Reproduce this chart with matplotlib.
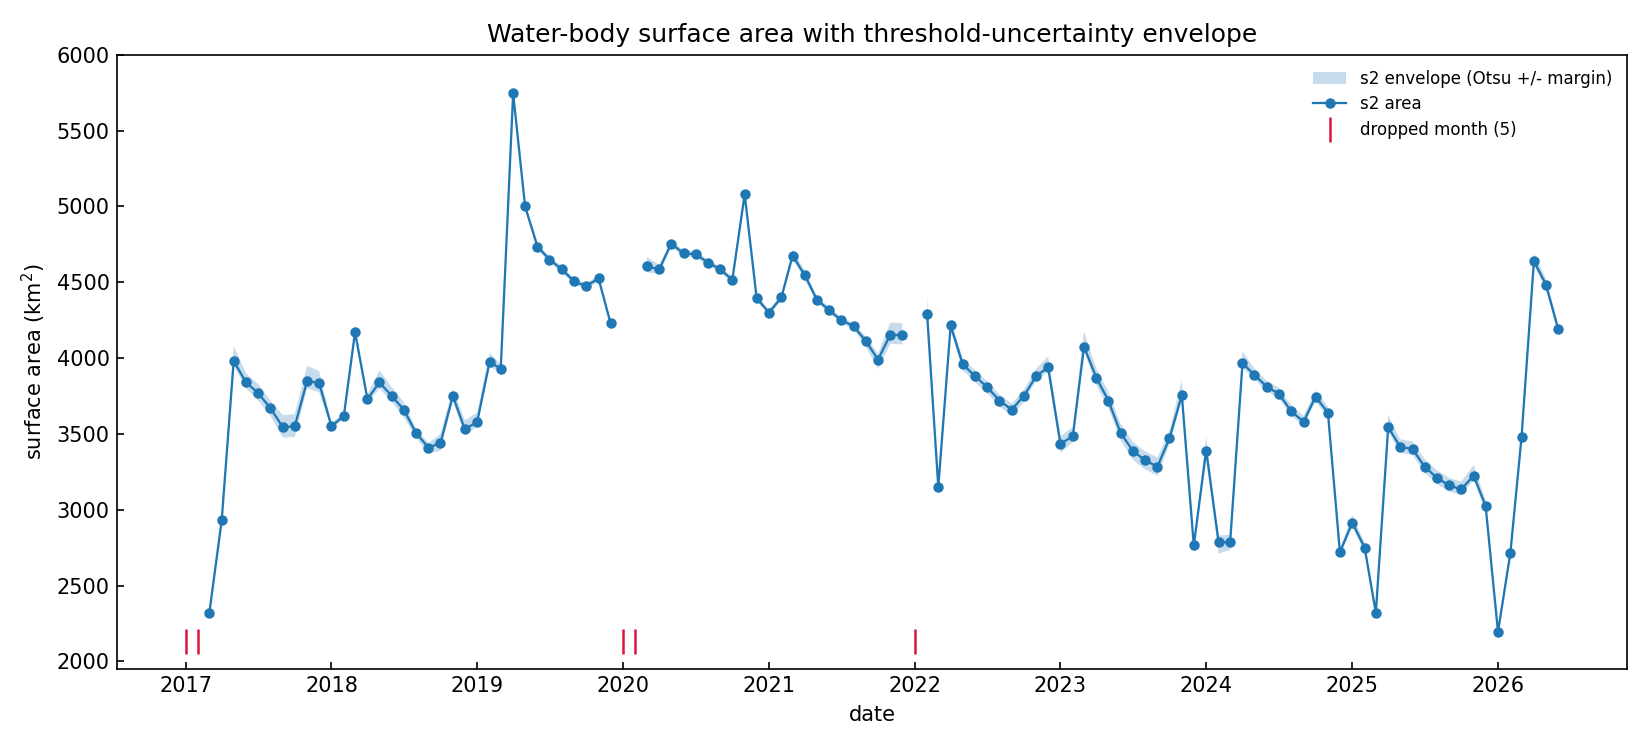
import matplotlib
matplotlib.use("Agg")
import matplotlib.pyplot as plt
import matplotlib.dates as mdates
import numpy as np
import pandas as pd

# monthly area, km^2 (None = dropped month)
area = [
    None, None, 2320, 2930, 3980, 3840, 3770, 3670, 3545, 3550, 3850, 3835,   # 2017
    3550, 3620, 4170, 3730, 3840, 3750, 3660, 3505, 3410, 3440, 3750, 3530,   # 2018
    3580, 3975, 3930, 5745, 5000, 4735, 4650, 4585, 4505, 4475, 4525, 4230,   # 2019
    None, None, 4605, 4585, 4755, 4690, 4685, 4630, 4585, 4515, 5080, 4395,   # 2020
    4300, 4400, 4675, 4545, 4385, 4315, 4250, 4210, 4110, 3990, 4155, 4150,   # 2021
    None, 4290, 3150, 4215, 3960, 3880, 3810, 3720, 3660, 3750, 3880, 3940,   # 2022
    3435, 3485, 4075, 3870, 3720, 3505, 3390, 3325, 3285, 3470, 3755, 2765,   # 2023
    3390, 2790, 2785, 3965, 3890, 3810, 3765, 3650, 3580, 3745, 3640, 2720,   # 2024
    2915, 2750, 2320, 3545, 3415, 3400, 3285, 3210, 3160, 3135, 3225, 3025,   # 2025
    2195, 2715, 3480, 4640, 4485, 4190,                                       # 2026
]

# envelope margins above / below the area (Otsu +/- margin)
env_up = [
    0, 0, 20, 20, 100, 60, 60, 50, 80, 80, 100, 80,
    20, 20, 40, 30, 80, 60, 50, 30, 30, 60, 50, 60,
    60, 60, 30, 40, 20, 20, 20, 20, 20, 20, 20, 20,
    0, 0, 60, 30, 20, 20, 20, 20, 20, 20, 30, 20,
    20, 20, 40, 30, 20, 20, 20, 20, 30, 40, 80, 80,
    0, 120, 20, 40, 40, 40, 40, 40, 40, 40, 50, 70,
    50, 60, 100, 60, 60, 60, 60, 60, 60, 50, 100, 20,
    90, 40, 50, 80, 40, 40, 40, 40, 40, 40, 40, 20,
    50, 30, 20, 80, 50, 50, 50, 50, 50, 50, 70, 40,
    20, 30, 30, 50, 40, 30,
]
env_dn = [
    0, 0, 20, 20, 30, 40, 50, 50, 70, 70, 50, 60,
    20, 20, 20, 30, 40, 40, 50, 30, 40, 50, 30, 40,
    30, 30, 30, 20, 20, 20, 20, 20, 20, 20, 20, 20,
    0, 0, 40, 30, 20, 20, 20, 20, 20, 20, 20, 20,
    20, 20, 20, 30, 20, 20, 20, 20, 40, 60, 60, 60,
    0, 20, 20, 30, 40, 40, 40, 40, 40, 40, 30, 30,
    60, 40, 30, 50, 50, 50, 60, 60, 60, 40, 30, 20,
    20, 80, 50, 30, 30, 30, 30, 30, 30, 30, 30, 20,
    30, 30, 20, 30, 40, 40, 40, 40, 40, 40, 30, 30,
    20, 30, 30, 30, 30, 30,
]

dropped = ["2017-01", "2017-02", "2020-01", "2020-02", "2022-01"]

dates = pd.date_range("2017-01-01", periods=len(area), freq="MS")
y = np.array([np.nan if v is None else v for v in area], dtype=float)
lo = y - np.array(env_dn)
hi = y + np.array(env_up)

fig, ax = plt.subplots(figsize=(11, 5), dpi=150)
fig.subplots_adjust(left=0.071, right=0.986, top=0.927, bottom=0.108)

ax.fill_between(dates, lo, hi, color="C0", alpha=0.25, linewidth=0,
                label="s2 envelope (Otsu +/- margin)")
ax.plot(dates, y, "-o", color="C0", lw=1.1, ms=4, label="s2 area")

drop_dates = pd.to_datetime(dropped)
ax.plot(drop_dates, [2132] * len(drop_dates), linestyle="none", marker="|",
        ms=12, mew=1.2, color="crimson", label=f"dropped month ({len(dropped)})")

ax.set_ylim(1950, 6000)
ax.xaxis.set_major_locator(mdates.YearLocator())
ax.xaxis.set_major_formatter(mdates.DateFormatter("%Y"))
ax.tick_params(direction="in")
ax.set_xlabel("date")
ax.set_ylabel("surface area (km$^2$)")
ax.set_title("Water-body surface area with threshold-uncertainty envelope", fontsize=12)
ax.legend(loc="upper right", frameon=False, fontsize=8, labelspacing=0.45)

plt.savefig("out.png")
